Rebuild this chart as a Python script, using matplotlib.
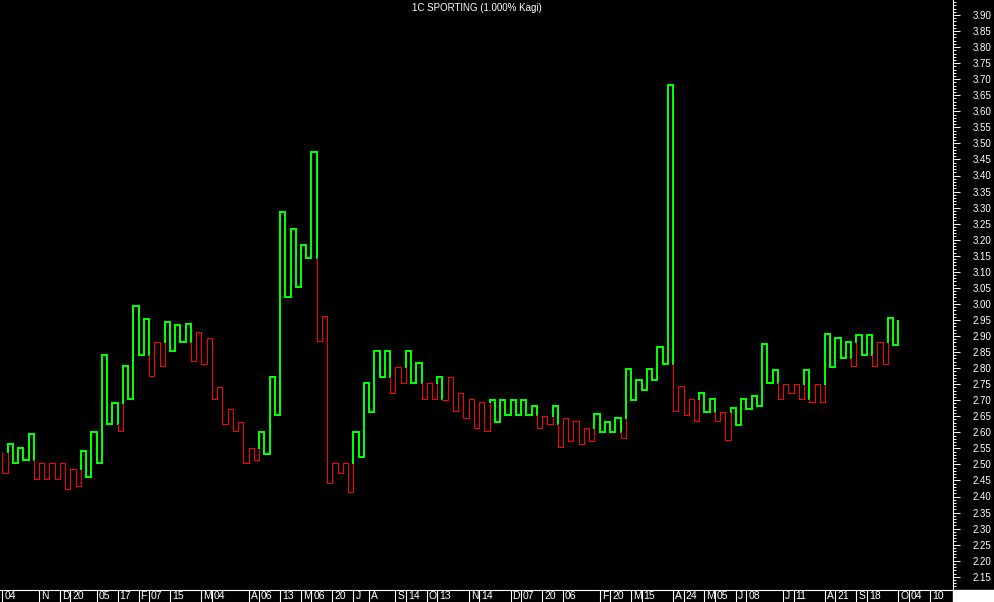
import matplotlib
matplotlib.use("Agg")
import matplotlib.pyplot as plt
from matplotlib.ticker import MultipleLocator, FormatStrFormatter
from matplotlib import transforms
from matplotlib.patches import Rectangle

plt.rcParams['font.family'] = ['Liberation Sans', 'DejaVu Sans']

title = "1C SPORTING (1.000% Kagi)"

# first price, then the end price of every kagi vertical
start_price = 2.540
turns = [2.472, 2.563, 2.503, 2.552, 2.514, 2.594, 2.454, 2.503, 2.454, 2.503,
         2.454, 2.503, 2.422, 2.485, 2.433, 2.543, 2.462, 2.602, 2.505, 2.842,
         2.625, 2.692, 2.605, 2.805, 2.703, 2.995, 2.842, 2.954, 2.775, 2.882,
         2.807, 2.945, 2.854, 2.934, 2.882, 2.936, 2.822, 2.914, 2.812, 2.893,
         2.704, 2.742, 2.626, 2.672, 2.604, 2.633, 2.505, 2.552, 2.514, 2.602,
         2.532, 2.773, 2.654, 3.285, 3.022, 3.234, 3.054, 3.183, 3.144, 3.474,
         2.884, 2.961, 2.441, 2.503, 2.472, 2.503, 2.413, 2.602, 2.524, 2.755,
         2.664, 2.854, 2.773, 2.854, 2.721, 2.804, 2.753, 2.854, 2.755, 2.815,
         2.703, 2.753, 2.703, 2.773, 2.701, 2.773, 2.666, 2.721, 2.643, 2.703,
         2.612, 2.693, 2.604, 2.701, 2.633, 2.701, 2.654, 2.701, 2.654, 2.701,
         2.654, 2.682, 2.612, 2.652, 2.625, 2.682, 2.553, 2.643, 2.573, 2.635,
         2.563, 2.612, 2.573, 2.656, 2.602, 2.633, 2.602, 2.646, 2.581, 2.796,
         2.701, 2.763, 2.732, 2.796, 2.763, 2.865, 2.813, 3.683, 2.666, 2.744,
         2.654, 2.703, 2.635, 2.723, 2.664, 2.703, 2.635, 2.664, 2.575, 2.675,
         2.623, 2.703, 2.672, 2.714, 2.682, 2.874, 2.755, 2.794, 2.703, 2.752,
         2.721, 2.752, 2.703, 2.794, 2.693, 2.752, 2.693, 2.905, 2.804, 2.895,
         2.830, 2.882, 2.806, 2.903, 2.841, 2.903, 2.806, 2.882, 2.812, 2.955,
         2.872, 2.947]

# date marks on the bottom strip (position = kagi line number)
date_pos = [0, 7, 11, 13, 18, 22, 26, 28, 32, 38, 40, 47, 49, 53, 57, 59, 63, 67,
            70, 75, 77, 81, 83, 89, 91, 97, 99, 103, 107, 114, 116, 120, 122, 128,
            130, 134, 136, 140, 142, 149, 151, 157, 159, 163, 165, 171, 173, 177]
date_labels = ["04", "N", "D", "20", "05", "17", "F", "07", "15", "M", "04", "A",
               "06", "13", "M", "06", "20", "J", "A", "S", "14", "O", "13", "N",
               "14", "D", "07", "20", "06", "F", "20", "M", "15", "A", "24", "M",
               "05", "J", "08", "J", "11", "A", "21", "S", "18", "O", "04", "10"]

green = "#00ff00"
red = "#ff0000"

# build the kagi line, splitting it where thick/thin changes
runs = []
color = red
run = [(0, start_price)]
last_high = start_price
last_low = start_price
p0 = start_price
for i, p1 in enumerate(turns):
    if i > 0:
        run.append((i, p0))
    if p1 > p0:
        if color == red and p1 > last_high:
            run.append((i, last_high))
            runs.append((color, run))
            run = [(i, last_high)]
            color = green
        last_low = p0
    else:
        if color == green and p1 < last_low:
            run.append((i, last_low))
            runs.append((color, run))
            run = [(i, last_low)]
            color = red
        last_high = p0
    run.append((i, p1))
    p0 = p1
runs.append((color, run))

fig = plt.figure(figsize=(9.94, 6.02), dpi=100, facecolor="black")
ax = fig.add_axes([0, 12 / 602, 953 / 994, 590 / 602])
ax.set_facecolor("black")

for c, pts in runs:
    xs = [p[0] for p in pts]
    ys = [p[1] for p in pts]
    if c == green:
        ax.plot(xs, ys, color=c, lw=1.4, antialiased=False, solid_joinstyle="miter")
    else:
        ax.plot(xs, ys, color=c, lw=0.6, antialiased=False, solid_joinstyle="miter")

ax.set_xlim(-2.3 / 5.24, (953 - 2.3) / 5.24)
ax.set_ylim(3.90 - 575 / 321, 3.90 + 15 / 321)

for s in ["top", "left"]:
    ax.spines[s].set_visible(False)
for s in ["right", "bottom"]:
    ax.spines[s].set_color("white")
    ax.spines[s].set_linewidth(0.8)

ax.yaxis.tick_right()
ax.yaxis.set_major_locator(MultipleLocator(0.05))
ax.yaxis.set_minor_locator(MultipleLocator(0.01))
ax.yaxis.set_major_formatter(FormatStrFormatter("%.2f"))
ax.tick_params(axis="y", which="major", direction="out", length=5, width=0.7,
               colors="white", labelsize=7, pad=9)
ax.tick_params(axis="y", which="minor", direction="out", length=2.5, width=0.7,
               colors="white")

ax.set_xticks(date_pos)
ax.tick_params(axis="x", direction="out", length=8.7, width=0.8, color="white",
               labelbottom=False)
lab_trans = transforms.offset_copy(ax.get_xaxis_transform(), fig=fig, x=2, y=-6,
                                   units="dots")
for pos, lab in zip(date_pos, date_labels):
    ax.text(pos, 0, lab, transform=lab_trans, ha="left", va="center",
            color="white", fontsize=7.5, clip_on=False)

fig.patches.append(Rectangle((953 / 994, 0), 41 / 994, 12 / 602,
                             transform=fig.transFigure, color="white"))
fig.text(476.5 / 994, 1 - 8 / 602, title, ha="center", va="center",
         color="white", fontsize=7)

fig.savefig("out.png", dpi=100, facecolor="black")
